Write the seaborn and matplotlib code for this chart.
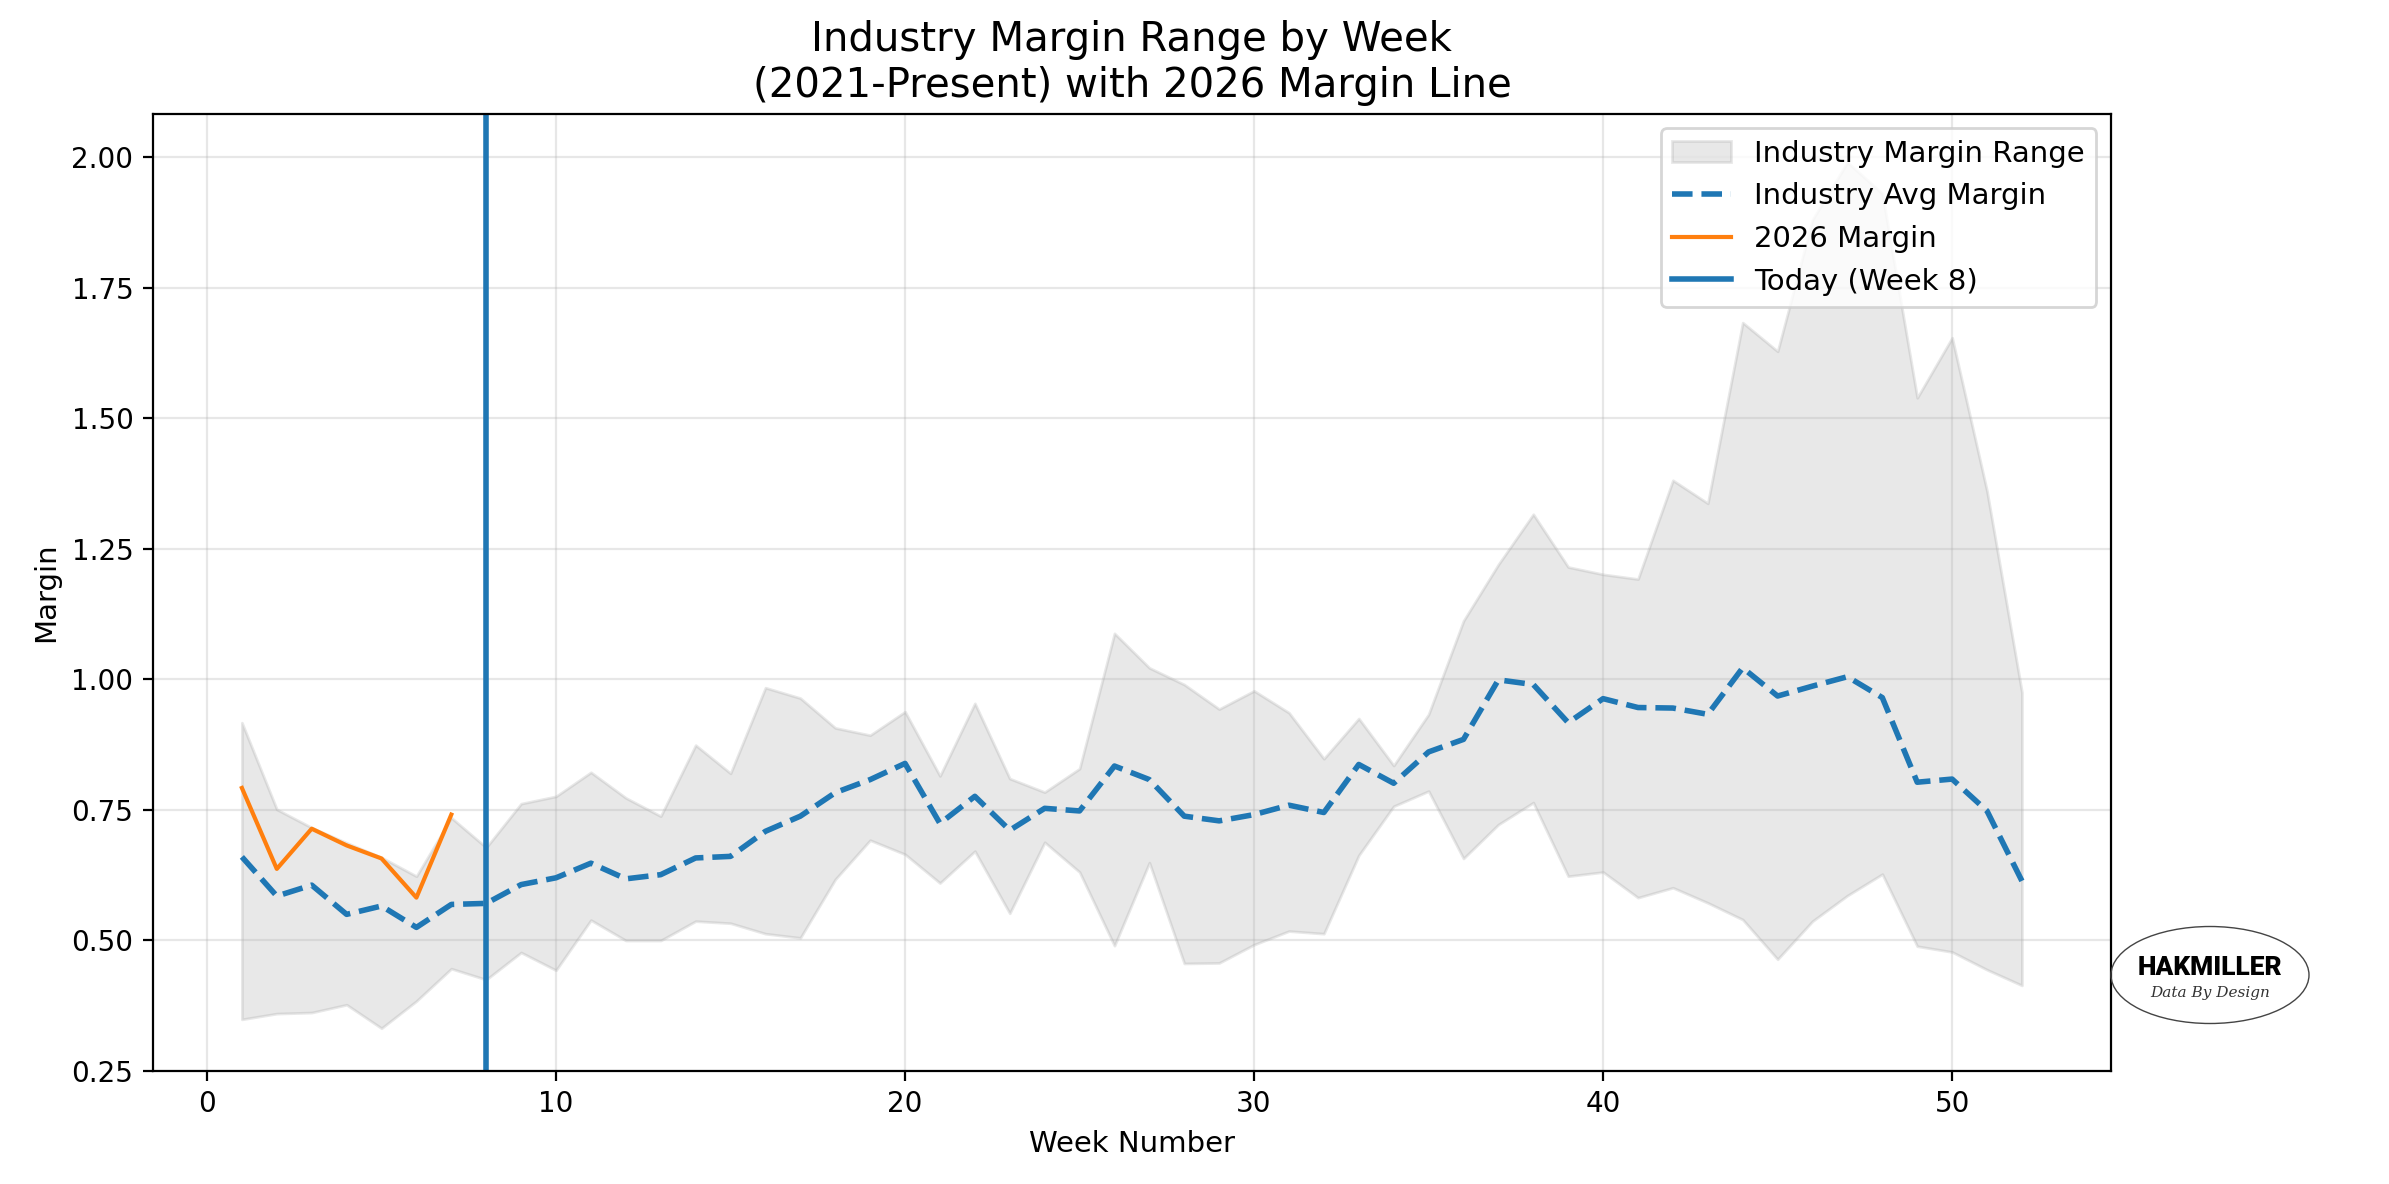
import numpy as np
import pandas as pd
import seaborn as sns
import matplotlib
matplotlib.use('Agg')
import matplotlib.pyplot as plt
from matplotlib.patches import Ellipse

# weekly industry margin data (2021-present)
weeks = list(range(1, 53))
upper = [0.917, 0.751, 0.716, 0.687, 0.659, 0.623, 0.735, 0.678, 0.762, 0.776,
         0.822, 0.773, 0.738, 0.874, 0.820, 0.984, 0.964, 0.907, 0.893, 0.938,
         0.815, 0.954, 0.810, 0.784, 0.829, 1.088, 1.022, 0.990, 0.943, 0.978,
         0.936, 0.848, 0.925, 0.835, 0.933, 1.112, 1.220, 1.316, 1.215, 1.201,
         1.192, 1.381, 1.337, 1.683, 1.628, 1.880, 1.990, 1.930, 1.539, 1.654,
         1.360, 0.975]
lower = [0.349, 0.360, 0.362, 0.377, 0.332, 0.384, 0.446, 0.425, 0.477, 0.443,
         0.539, 0.500, 0.500, 0.537, 0.533, 0.513, 0.505, 0.617, 0.692, 0.665,
         0.610, 0.671, 0.552, 0.688, 0.631, 0.490, 0.649, 0.456, 0.457, 0.492,
         0.518, 0.513, 0.663, 0.757, 0.786, 0.657, 0.722, 0.764, 0.623, 0.631,
         0.582, 0.601, 0.572, 0.540, 0.464, 0.537, 0.586, 0.627, 0.489, 0.478,
         0.444, 0.414]
avg = [0.660, 0.585, 0.606, 0.550, 0.566, 0.525, 0.569, 0.571, 0.607, 0.620,
       0.648, 0.618, 0.626, 0.658, 0.661, 0.709, 0.738, 0.783, 0.808, 0.839,
       0.724, 0.776, 0.711, 0.753, 0.748, 0.834, 0.808, 0.738, 0.729, 0.741,
       0.759, 0.745, 0.837, 0.801, 0.861, 0.885, 0.999, 0.990, 0.917, 0.963,
       0.946, 0.945, 0.933, 1.022, 0.968, 0.987, 1.005, 0.965, 0.803, 0.809,
       0.748, 0.614]
weeks_2026 = [1, 2, 3, 4, 5, 6, 7]
margin_2026 = [0.792, 0.637, 0.714, 0.682, 0.657, 0.582, 0.741]
today_week = 8

hist = pd.DataFrame({'Week': weeks, 'Upper': upper, 'Lower': lower, 'Avg': avg})
cur = pd.DataFrame({'Week': weeks_2026, 'Margin': margin_2026})

plt.rcParams['font.family'] = ['DejaVu Sans']

fig = plt.figure(figsize=(11.945, 5.92), dpi=200)
ax = fig.add_axes([0.064, 0.0954, 0.8196, 0.8086])

ax.fill_between(hist['Week'], hist['Lower'], hist['Upper'], color='gray', alpha=0.18,
                label='Industry Margin Range')
sns.lineplot(data=hist, x='Week', y='Avg', ax=ax, color='#1f77b4', linestyle='--',
             linewidth=2, label='Industry Avg Margin')
sns.lineplot(data=cur, x='Week', y='Margin', ax=ax, color='#ff7f0e', linewidth=1.5,
             label='2026 Margin')
ax.axvline(today_week, color='#1f77b4', linewidth=2, label=f'Today (Week {today_week})')

ax.set_xlim(-1.55, 54.55)
ax.set_ylim(0.25, 2.083)
ax.set_yticks(np.arange(0.25, 2.01, 0.25))
ax.set_yticklabels([f'{v:.2f}' for v in np.arange(0.25, 2.01, 0.25)])
ax.tick_params(labelsize=10)
ax.grid(True, alpha=0.3)

ax.set_title('Industry Margin Range by Week\n(2021-Present) with 2026 Margin Line',
             fontsize=14.5)
ax.set_xlabel('Week Number', fontsize=10.5)
ax.set_ylabel('Margin', fontsize=10.5)
ax.legend(loc='upper right', fontsize=10.5)

# logo
fig.patches.append(Ellipse((2210 / 2389, 1 - 975 / 1184), 198 / 2389, 97 / 1184,
                           transform=fig.transFigure, fill=False,
                           edgecolor='#444444', linewidth=0.5))
fig.text(2210 / 2389, 1 - 968 / 1184, 'HAKMILLER', ha='center', va='center',
         fontsize=9.5, fontweight='black', family=['Roboto', 'DejaVu Sans'])
fig.text(2210 / 2389, 1 - 993 / 1184, 'Data By Design', ha='center', va='center',
         fontsize=5.5, style='italic', family=['DejaVu Serif'], color='#333333')

fig.savefig('out.png', dpi=200)
